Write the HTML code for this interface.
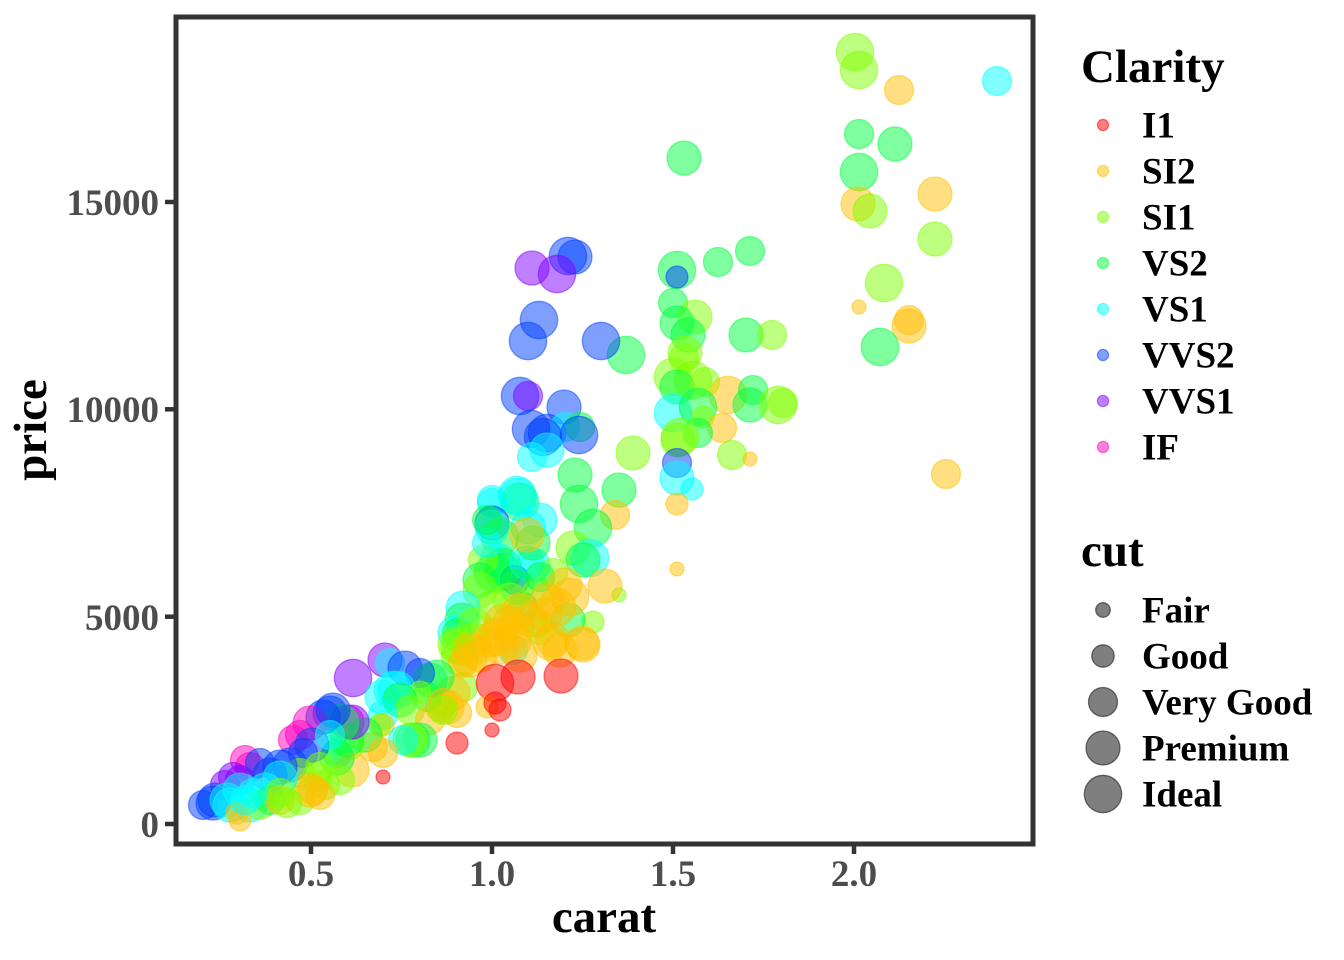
<!DOCTYPE html>
<html>
<head>
<meta charset="utf-8">
<style>
html,body{margin:0;padding:0;background:#fff;}
svg{display:block;}
text{font-family:"Liberation Serif","Times New Roman",serif;font-weight:bold;}
.tk{font-size:37px;fill:#4d4d4d;}
.lg{font-size:37px;fill:#000;}
.tt{font-size:47px;fill:#000;}
circle{fill-opacity:.5;stroke-opacity:.5;stroke-width:1.3;}
.c0{fill:#FF0000;stroke:#FF0000}
.c1{fill:#FFBF00;stroke:#FFBF00}
.c2{fill:#80FF00;stroke:#80FF00}
.c3{fill:#00FF40;stroke:#00FF40}
.c4{fill:#00FFFF;stroke:#00FFFF}
.c5{fill:#0040FF;stroke:#0040FF}
.c6{fill:#8000FF;stroke:#8000FF}
.c7{fill:#FF00BF;stroke:#FF00BF}
.gk{fill:#000;stroke:#000;}
</style>
</head>
<body>
<svg width="1344" height="960" viewBox="0 0 1344 960" xmlns="http://www.w3.org/2000/svg">
<rect x="0" y="0" width="1344" height="960" fill="#fff"/>
<g>
<circle class="c2" cx="855" cy="52" r="18.7"/>
<circle class="c2" cx="859" cy="70" r="18.7"/>
<circle class="c1" cx="899" cy="90" r="14.5"/>
<circle class="c4" cx="997" cy="81" r="14.5"/>
<circle class="c3" cx="859" cy="134" r="14.5"/>
<circle class="c3" cx="895" cy="144" r="17"/>
<circle class="c3" cx="859" cy="172" r="18.7"/>
<circle class="c1" cx="858" cy="204" r="17"/>
<circle class="c2" cx="870" cy="211" r="17"/>
<circle class="c1" cx="935" cy="194" r="17"/>
<circle class="c2" cx="935" cy="239" r="17"/>
<circle class="c2" cx="884" cy="283" r="18.7"/>
<circle class="c1" cx="859" cy="307" r="7"/>
<circle class="c1" cx="909" cy="320" r="14.5"/>
<circle class="c1" cx="909" cy="326" r="17"/>
<circle class="c3" cx="880" cy="347" r="18.7"/>
<circle class="c1" cx="946" cy="474" r="14.5"/>
<circle class="c3" cx="684" cy="158" r="17"/>
<circle class="c3" cx="677" cy="270" r="18.7"/>
<circle class="c5" cx="677" cy="277" r="11"/>
<circle class="c3" cx="718" cy="262" r="14.5"/>
<circle class="c3" cx="750" cy="251" r="14.5"/>
<circle class="c3" cx="673" cy="303" r="14.5"/>
<circle class="c2" cx="695" cy="317" r="17"/>
<circle class="c3" cx="677" cy="323" r="17"/>
<circle class="c3" cx="688" cy="335" r="17"/>
<circle class="c2" cx="685" cy="353" r="17"/>
<circle class="c2" cx="684" cy="358" r="14.5"/>
<circle class="c2" cx="673" cy="377" r="18.7"/>
<circle class="c2" cx="693" cy="380" r="18.7"/>
<circle class="c3" cx="677" cy="387" r="17"/>
<circle class="c2" cx="705" cy="382" r="14.5"/>
<circle class="c3" cx="746" cy="335" r="17"/>
<circle class="c2" cx="772" cy="335" r="14.5"/>
<circle class="c1" cx="728" cy="395" r="18.7"/>
<circle class="c3" cx="753" cy="390" r="14.5"/>
<circle class="c3" cx="750" cy="405" r="17"/>
<circle class="c2" cx="778" cy="405" r="18.7"/>
<circle class="c2" cx="783" cy="403" r="14.5"/>
<circle class="c4" cx="673" cy="413" r="18.7"/>
<circle class="c3" cx="698" cy="407" r="18.7"/>
<circle class="c2" cx="703" cy="417" r="11"/>
<circle class="c1" cx="722" cy="428" r="14.5"/>
<circle class="c3" cx="698" cy="433" r="14.5"/>
<circle class="c2" cx="680" cy="437" r="18.7"/>
<circle class="c2" cx="678" cy="440" r="17"/>
<circle class="c2" cx="732" cy="455" r="14.5"/>
<circle class="c1" cx="750" cy="459" r="7"/>
<circle class="c5" cx="677" cy="463" r="14.5"/>
<circle class="c4" cx="677" cy="478" r="17"/>
<circle class="c4" cx="692" cy="489" r="11"/>
<circle class="c1" cx="677" cy="504" r="11"/>
<circle class="c1" cx="677" cy="569" r="7"/>
<circle class="c2" cx="633" cy="453" r="17"/>
<circle class="c3" cx="626" cy="355" r="18.7"/>
<circle class="c6" cx="532" cy="268" r="17"/>
<circle class="c5" cx="568" cy="256" r="18.7"/>
<circle class="c5" cx="575" cy="257" r="17"/>
<circle class="c6" cx="557" cy="274" r="18.7"/>
<circle class="c5" cx="539" cy="320" r="18.7"/>
<circle class="c5" cx="528" cy="341" r="18.7"/>
<circle class="c5" cx="601" cy="341" r="18.7"/>
<circle class="c5" cx="520" cy="396" r="18.7"/>
<circle class="c6" cx="528" cy="396" r="14.5"/>
<circle class="c5" cx="564" cy="407" r="17"/>
<circle class="c5" cx="547" cy="433" r="18.7"/>
<circle class="c4" cx="565" cy="427" r="14.5"/>
<circle class="c3" cx="580" cy="427" r="14.5"/>
<circle class="c5" cx="579" cy="435" r="18.7"/>
<circle class="c5" cx="531" cy="429" r="18.7"/>
<circle class="c5" cx="543" cy="437" r="18.7"/>
<circle class="c4" cx="532" cy="457" r="14.5"/>
<circle class="c4" cx="547" cy="450" r="17"/>
<circle class="c3" cx="575" cy="475" r="17"/>
<circle class="c3" cx="619" cy="490" r="17"/>
<circle class="c3" cx="579" cy="504" r="18.7"/>
<circle class="c4" cx="492" cy="500" r="14.5"/>
<circle class="c4" cx="517" cy="495" r="18.7"/>
<circle class="c3" cx="520" cy="502" r="18.7"/>
<circle class="c1" cx="615" cy="515" r="14.5"/>
<circle class="c3" cx="593" cy="528" r="18.7"/>
<circle class="c2" cx="573" cy="548" r="17"/>
<circle class="c4" cx="590" cy="558" r="18.7"/>
<circle class="c3" cx="583" cy="560" r="17"/>
<circle class="c2" cx="619" cy="595" r="7"/>
<circle class="c2" cx="593" cy="622" r="11"/>
<circle class="c3" cx="568" cy="620" r="17"/>
<circle class="c4" cx="518" cy="497" r="18.7"/>
<circle class="c4" cx="492" cy="503" r="14.5"/>
<circle class="c5" cx="492" cy="523" r="17"/>
<circle class="c4" cx="492" cy="527" r="17"/>
<circle class="c4" cx="528" cy="527" r="17"/>
<circle class="c4" cx="540" cy="520" r="17"/>
<circle class="c3" cx="500" cy="537" r="18.7"/>
<circle class="c4" cx="497" cy="560" r="17"/>
<circle class="c3" cx="503" cy="572" r="18.7"/>
<circle class="c4" cx="533" cy="565" r="17"/>
<circle class="c5" cx="515" cy="580" r="14.5"/>
<circle class="c2" cx="553" cy="573" r="14.5"/>
<circle class="c3" cx="493" cy="573" r="18.7"/>
<circle class="c3" cx="503" cy="567" r="18.7"/>
<circle class="c4" cx="527" cy="563" r="17"/>
<circle class="c3" cx="517" cy="587" r="17"/>
<circle class="c2" cx="537" cy="593" r="14.5"/>
<circle class="c4" cx="513" cy="650" r="14.5"/>
<circle class="c2" cx="537" cy="623" r="14.5"/>
<circle class="c3" cx="523" cy="607" r="14.5"/>
<circle class="c2" cx="483" cy="560" r="14.5"/>
<circle class="c4" cx="487" cy="543" r="14.5"/>
<circle class="c3" cx="533" cy="543" r="17"/>
<circle class="c2" cx="493" cy="607" r="17"/>
<circle class="c3" cx="480" cy="580" r="17"/>
<circle class="c2" cx="480" cy="590" r="17"/>
<circle class="c2" cx="510" cy="600" r="17"/>
<circle class="c3" cx="487" cy="520" r="14.5"/>
<circle class="c3" cx="540" cy="577" r="14.5"/>
<circle class="c4" cx="463" cy="608" r="17"/>
<circle class="c3" cx="462" cy="620" r="17"/>
<circle class="c4" cx="455" cy="633" r="17"/>
<circle class="c3" cx="457" cy="633" r="14.5"/>
<circle class="c2" cx="475" cy="625" r="17"/>
<circle class="c2" cx="455" cy="645" r="17"/>
<circle class="c2" cx="458" cy="647" r="17"/>
<circle class="c2" cx="460" cy="657" r="18.7"/>
<circle class="c2" cx="475" cy="640" r="17"/>
<circle class="c2" cx="463" cy="687" r="14.5"/>
<circle class="c2" cx="540" cy="630" r="14.5"/>
<circle class="c1" cx="527" cy="535" r="17"/>
<circle class="c1" cx="547" cy="600" r="17"/>
<circle class="c1" cx="565" cy="585" r="17"/>
<circle class="c1" cx="605" cy="586" r="17"/>
<circle class="c1" cx="570" cy="597" r="18.7"/>
<circle class="c1" cx="557" cy="607" r="18.7"/>
<circle class="c1" cx="545" cy="615" r="17"/>
<circle class="c1" cx="583" cy="645" r="17"/>
<circle class="c1" cx="560" cy="650" r="17"/>
<circle class="c1" cx="550" cy="643" r="17"/>
<circle class="c1" cx="497" cy="637" r="18.7"/>
<circle class="c1" cx="513" cy="640" r="18.7"/>
<circle class="c1" cx="503" cy="623" r="18.7"/>
<circle class="c1" cx="515" cy="630" r="18.7"/>
<circle class="c1" cx="500" cy="645" r="18.7"/>
<circle class="c1" cx="510" cy="623" r="17"/>
<circle class="c1" cx="520" cy="610" r="17"/>
<circle class="c1" cx="530" cy="620" r="17"/>
<circle class="c1" cx="490" cy="640" r="17"/>
<circle class="c1" cx="520" cy="655" r="17"/>
<circle class="c1" cx="470" cy="650" r="17"/>
<circle class="c1" cx="480" cy="655" r="17"/>
<circle class="c1" cx="463" cy="663" r="14.5"/>
<circle class="c1" cx="470" cy="660" r="17"/>
<circle class="c1" cx="453" cy="693" r="17"/>
<circle class="c1" cx="457" cy="713" r="14.5"/>
<circle class="c1" cx="447" cy="707" r="17"/>
<circle class="c1" cx="440" cy="707" r="14.5"/>
<circle class="c1" cx="553" cy="640" r="17"/>
<circle class="c1" cx="582" cy="643" r="17"/>
<circle class="c0" cx="561" cy="676" r="17"/>
<circle class="c0" cx="457" cy="743" r="11"/>
<circle class="c0" cx="492" cy="730" r="7"/>
<circle class="c0" cx="495" cy="683" r="18.7"/>
<circle class="c0" cx="518" cy="677" r="17"/>
<circle class="c1" cx="487" cy="707" r="11"/>
<circle class="c0" cx="500" cy="710" r="11"/>
<circle class="c0" cx="495" cy="703" r="11"/>
<circle class="c6" cx="353" cy="678" r="18.7"/>
<circle class="c6" cx="385" cy="660" r="17"/>
<circle class="c4" cx="390" cy="663" r="14.5"/>
<circle class="c5" cx="405" cy="668" r="17"/>
<circle class="c3" cx="430" cy="680" r="17"/>
<circle class="c3" cx="437" cy="677" r="17"/>
<circle class="c5" cx="420" cy="673" r="14.5"/>
<circle class="c4" cx="397" cy="690" r="18.7"/>
<circle class="c4" cx="393" cy="690" r="18.7"/>
<circle class="c4" cx="382" cy="697" r="17"/>
<circle class="c3" cx="427" cy="697" r="14.5"/>
<circle class="c2" cx="420" cy="692" r="11"/>
<circle class="c3" cx="400" cy="700" r="17"/>
<circle class="c2" cx="410" cy="710" r="14.5"/>
<circle class="c1" cx="430" cy="720" r="14.5"/>
<circle class="c1" cx="443" cy="703" r="14.5"/>
<circle class="c2" cx="443" cy="710" r="14.5"/>
<circle class="c4" cx="383" cy="715" r="14.5"/>
<circle class="c1" cx="383" cy="725" r="11"/>
<circle class="c3" cx="413" cy="740" r="17"/>
<circle class="c3" cx="420" cy="740" r="17"/>
<circle class="c2" cx="410" cy="740" r="17"/>
<circle class="c4" cx="403" cy="740" r="14.5"/>
<circle class="c7" cx="347" cy="722" r="17"/>
<circle class="c5" cx="330" cy="713" r="17"/>
<circle class="c0" cx="383" cy="777" r="7"/>
<circle class="c2" cx="380" cy="725" r="11"/>
<circle class="c1" cx="373" cy="747" r="14.5"/>
<circle class="c3" cx="365" cy="735" r="17"/>
<circle class="c2" cx="350" cy="745" r="14.5"/>
<circle class="c3" cx="347" cy="740" r="17"/>
<circle class="c3" cx="337" cy="753" r="14.5"/>
<circle class="c1" cx="383" cy="753" r="14.5"/>
<circle class="c1" cx="352" cy="770" r="17"/>
<circle class="c3" cx="337" cy="758" r="17"/>
<circle class="c6" cx="352" cy="722" r="17"/>
<circle class="c3" cx="340" cy="723" r="18.7"/>
<circle class="c5" cx="323" cy="717" r="17"/>
<circle class="c7" cx="310" cy="723" r="17"/>
<circle class="c5" cx="333" cy="710" r="17"/>
<circle class="c7" cx="293" cy="740" r="14.5"/>
<circle class="c7" cx="300" cy="735" r="14.5"/>
<circle class="c5" cx="312" cy="745" r="17"/>
<circle class="c4" cx="330" cy="735" r="14.5"/>
<circle class="c5" cx="303" cy="753" r="14.5"/>
<circle class="c5" cx="290" cy="765" r="17"/>
<circle class="c2" cx="317" cy="777" r="14.5"/>
<circle class="c2" cx="320" cy="767" r="14.5"/>
<circle class="c2" cx="300" cy="773" r="14.5"/>
<circle class="c2" cx="325" cy="785" r="14.5"/>
<circle class="c2" cx="340" cy="780" r="14.5"/>
<circle class="c2" cx="300" cy="800" r="14.5"/>
<circle class="c1" cx="313" cy="790" r="14.5"/>
<circle class="c1" cx="320" cy="795" r="14.5"/>
<circle class="c1" cx="310" cy="790" r="17"/>
<circle class="c7" cx="245" cy="760" r="14.5"/>
<circle class="c7" cx="250" cy="767" r="14.5"/>
<circle class="c6" cx="233" cy="777" r="14.5"/>
<circle class="c6" cx="240" cy="780" r="14.5"/>
<circle class="c6" cx="225" cy="785" r="14.5"/>
<circle class="c5" cx="270" cy="775" r="17"/>
<circle class="c5" cx="260" cy="763" r="14.5"/>
<circle class="c5" cx="280" cy="767" r="17"/>
<circle class="c4" cx="280" cy="778" r="17"/>
<circle class="c5" cx="215" cy="800" r="17"/>
<circle class="c5" cx="213" cy="803" r="17"/>
<circle class="c5" cx="203" cy="805" r="14.5"/>
<circle class="c4" cx="230" cy="805" r="17"/>
<circle class="c4" cx="240" cy="790" r="17"/>
<circle class="c4" cx="227" cy="800" r="17"/>
<circle class="c4" cx="265" cy="790" r="17"/>
<circle class="c4" cx="250" cy="805" r="17"/>
<circle class="c1" cx="237" cy="813" r="11"/>
<circle class="c1" cx="240" cy="820" r="11"/>
<circle class="c2" cx="260" cy="805" r="14.5"/>
<circle class="c3" cx="270" cy="800" r="14.5"/>
<circle class="c1" cx="280" cy="800" r="14.5"/>
<circle class="c2" cx="280" cy="793" r="14.5"/>
<circle class="c2" cx="287" cy="803" r="14.5"/>
<circle class="c4" cx="253" cy="793" r="14.5"/>
<circle class="c4" cx="245" cy="800" r="14.5"/>
</g>
<rect x="176" y="17" width="857" height="827" fill="none" stroke="#333333" stroke-width="5"/>
<g stroke="#333333" stroke-width="4.5">
<line x1="165" y1="202" x2="174" y2="202"/>
<line x1="165" y1="409.3" x2="174" y2="409.3"/>
<line x1="165" y1="616.7" x2="174" y2="616.7"/>
<line x1="165" y1="824" x2="174" y2="824"/>
<line x1="311" y1="846" x2="311" y2="854"/>
<line x1="492" y1="846" x2="492" y2="854"/>
<line x1="673" y1="846" x2="673" y2="854"/>
<line x1="854" y1="846" x2="854" y2="854"/>
</g>
<text class="tk" x="159" y="215" text-anchor="end">15000</text>
<text class="tk" x="159" y="422" text-anchor="end">10000</text>
<text class="tk" x="159" y="630" text-anchor="end">5000</text>
<text class="tk" x="159" y="837" text-anchor="end">0</text>
<text class="tk" x="311" y="886" text-anchor="middle">0.5</text>
<text class="tk" x="492" y="886" text-anchor="middle">1.0</text>
<text class="tk" x="673" y="886" text-anchor="middle">1.5</text>
<text class="tk" x="854" y="886" text-anchor="middle">2.0</text>
<text class="tt" x="604" y="932" text-anchor="middle">carat</text>
<text class="tt" x="0" y="0" text-anchor="middle" transform="translate(46,430) rotate(-90)">price</text>
<text class="tt" x="1081" y="82">Clarity</text>
<circle class="c0" cx="1103" cy="125" r="5.6"/>
<circle class="c1" cx="1103" cy="171" r="5.6"/>
<circle class="c2" cx="1103" cy="217" r="5.6"/>
<circle class="c3" cx="1103" cy="263" r="5.6"/>
<circle class="c4" cx="1103" cy="309" r="5.6"/>
<circle class="c5" cx="1103" cy="355" r="5.6"/>
<circle class="c6" cx="1103" cy="401" r="5.6"/>
<circle class="c7" cx="1103" cy="447" r="5.6"/>
<text class="lg" x="1142" y="137.5">I1</text>
<text class="lg" x="1142" y="183.5">SI2</text>
<text class="lg" x="1142" y="229.5">SI1</text>
<text class="lg" x="1142" y="275.5">VS2</text>
<text class="lg" x="1142" y="321.5">VS1</text>
<text class="lg" x="1142" y="367.5">VVS2</text>
<text class="lg" x="1142" y="413.5">VVS1</text>
<text class="lg" x="1142" y="459.5">IF</text>
<text class="tt" x="1081" y="566">cut</text>
<circle class="gk" cx="1103" cy="610" r="7.3"/>
<circle class="gk" cx="1103" cy="656" r="11.2"/>
<circle class="gk" cx="1103" cy="702" r="14.5"/>
<circle class="gk" cx="1103" cy="748" r="17"/>
<circle class="gk" cx="1103" cy="794" r="18.7"/>
<text class="lg" x="1142" y="622.5">Fair</text>
<text class="lg" x="1142" y="668.5">Good</text>
<text class="lg" x="1142" y="714.5">Very Good</text>
<text class="lg" x="1142" y="760.5">Premium</text>
<text class="lg" x="1142" y="806.5">Ideal</text>
</svg>
</body>
</html>
